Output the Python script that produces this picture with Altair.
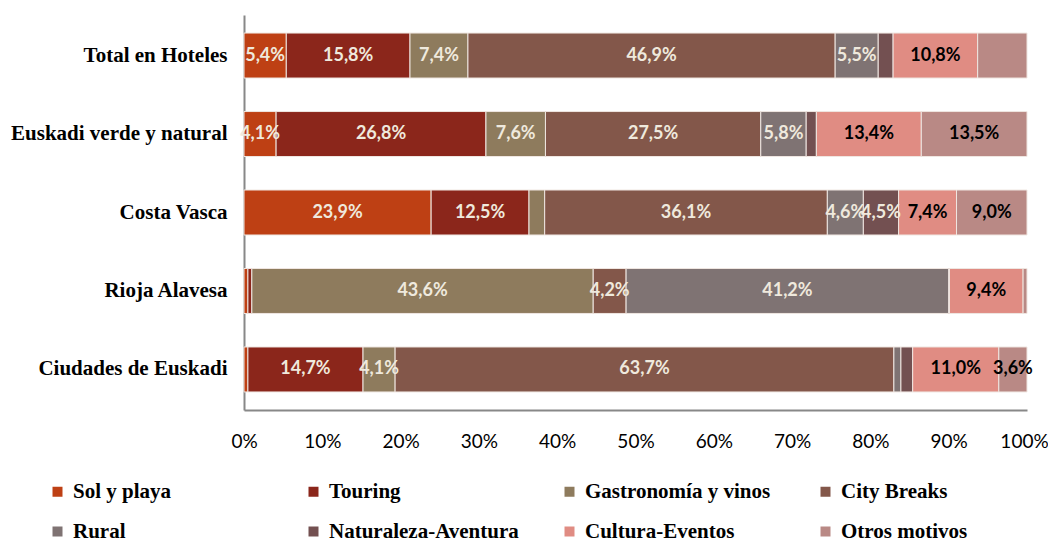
import altair as alt
import pandas as pd

regions = ["Total en Hoteles", "Euskadi verde y natural", "Costa Vasca",
           "Rioja Alavesa", "Ciudades de Euskadi"]
categories = ["Sol y playa", "Touring", "Gastronomía y vinos", "City Breaks",
              "Rural", "Naturaleza-Aventura", "Cultura-Eventos", "Otros motivos"]
colors = ["#BE4014", "#8B261B", "#8E7B5D", "#83574A",
          "#7F7373", "#735051", "#E08C83", "#B98985"]

sol_y_playa = [5.4, 4.1, 23.9, 0.5, 0.5]
touring = [15.8, 26.8, 12.5, 0.5, 14.7]
gastronomia = [7.4, 7.6, 2.0, 43.6, 4.1]
city_breaks = [46.9, 27.5, 36.1, 4.2, 63.7]
rural = [5.5, 5.8, 4.6, 41.2, 0.9]
naturaleza = [1.9, 1.3, 4.5, 0.1, 1.5]
cultura = [10.8, 13.4, 7.4, 9.4, 11.0]
otros = [6.3, 13.5, 9.0, 0.5, 3.6]

series = [sol_y_playa, touring, gastronomia, city_breaks,
          rural, naturaleza, cultura, otros]

# labels that the original leaves out
hidden = [("Total en Hoteles", "Otros motivos")]
x_ticks = [0, 10, 20, 30, 40, 50, 60, 70, 80, 90, 100]

rows = []
for ci, (cat, vals) in enumerate(zip(categories, series)):
    for reg, v in zip(regions, vals):
        show = v >= 3.5 and (reg, cat) not in hidden
        rows.append({"region": reg, "category": cat, "order": ci,
                     "value": v, "show": show,
                     "dark": cat in ("Cultura-Eventos", "Otros motivos")})
df = pd.DataFrame(rows)

base = alt.Chart(df).transform_stack(
    stack="value", as_=["x0", "x1"], groupby=["region"],
    sort=[alt.SortField("order", order="ascending")]
).transform_calculate(
    mid="(datum.x0 + datum.x1) / 2",
    label="replace(format(datum.value, '.1f'), '.', ',') + '%'"
)

y_enc = alt.Y("region:N", sort=regions, title=None,
              scale=alt.Scale(paddingInner=0.427, paddingOuter=0.23),
              axis=alt.Axis(labelFont="Liberation Serif", labelFontWeight="bold",
                            labelFontSize=21, labelColor="#000000", ticks=False,
                            labelPadding=17, domainColor="#888888", domainWidth=2,
                            labelLimit=400))

bars = base.mark_bar(stroke="#EFE6E1", strokeWidth=1).encode(
    x=alt.X("x0:Q", title=None,
            scale=alt.Scale(domain=[0, 100], nice=False, zero=True),
            axis=alt.Axis(values=x_ticks, labelExpr="datum.value + '%'",
                          grid=False, ticks=False, labelFont="Lato",
                          labelFontSize=19, labelColor="#000000",
                          labelPadding=22, domainColor="#888888", domainWidth=2,
                          labelFlush=False,
                          labelOffset={"condition": {"test": "datum.value == 100",
                                                     "value": -3},
                                       "value": 0})),
    x2="x1:Q",
    y=y_enc,
    color=alt.Color("category:N", sort=categories, title=None,
                    scale=alt.Scale(domain=categories, range=colors),
                    legend=alt.Legend(orient="none", legendX=-197, legendY=466,
                                      direction="horizontal",
                                      columns=4, gridAlign="all",
                                      columnPadding=40, rowPadding=18,
                                      symbolType="square", symbolSize=100,
                                      symbolStrokeWidth=0, labelOffset=5,
                                      labelFont="Liberation Serif",
                                      labelFontWeight="bold", labelFontSize=21,
                                      labelColor="#000000", padding=0,
                                      labelLimit=400)),
    order=alt.Order("order:Q"),
)

light_text = base.transform_filter("datum.show && !datum.dark").mark_text(
    font="Lato", fontWeight="bold", fontSize=18, color="#EFE9DD",
    align="center", baseline="middle"
).encode(x="mid:Q", y=alt.Y("region:N", sort=regions), text="label:N")

dark_text = base.transform_filter("datum.show && datum.dark").mark_text(
    font="Lato", fontWeight="bold", fontSize=18, color="#000000",
    align="center", baseline="middle"
).encode(x="mid:Q", y=alt.Y("region:N", sort=regions), text="label:N")

chart = alt.layer(bars, light_text, dark_text).properties(
    width=783, height=395,
    background="white",
    autosize=alt.AutoSizeParams(type="none"),
    padding={"left": 236, "top": 7, "right": 21, "bottom": 132},
).configure_view(stroke=None)

chart.save("out.html", embed_options={"renderer": "svg", "actions": False})
